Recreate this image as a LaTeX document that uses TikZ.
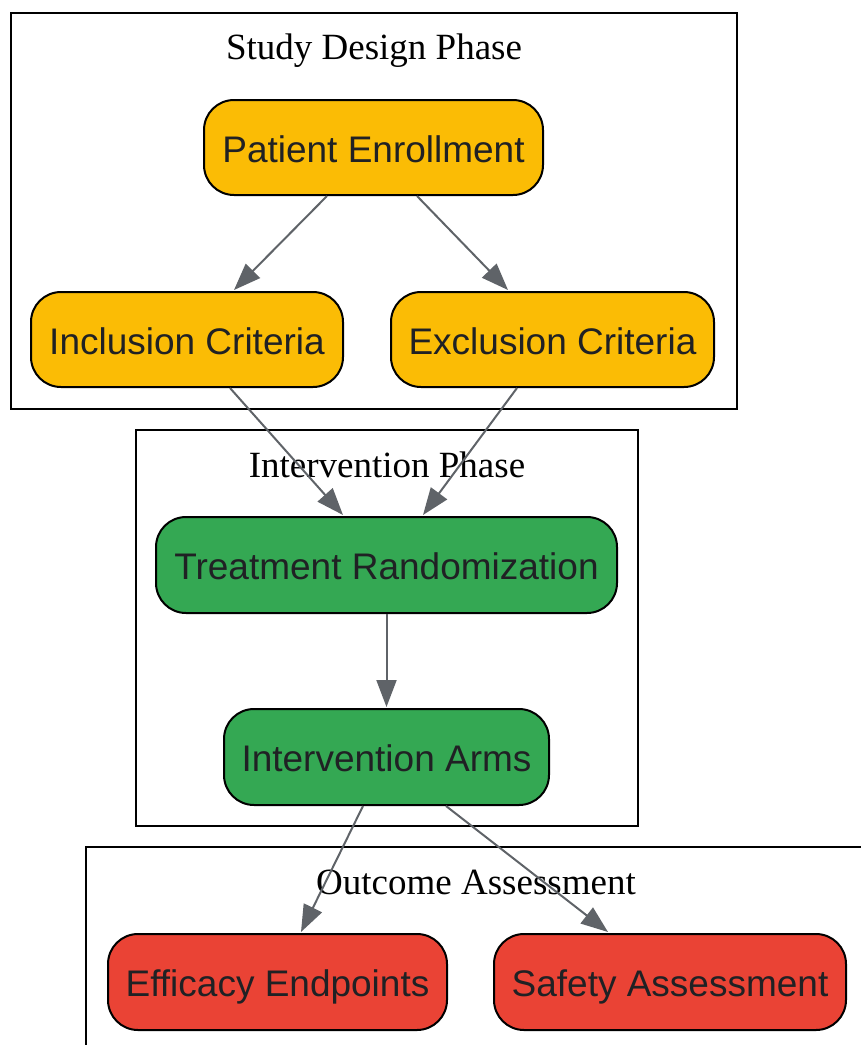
\documentclass[tikz,border=0pt]{standalone}
\usepackage{fontspec}
\setmainfont{Liberation Serif}
\newfontfamily\nodefont{Liberation Sans}
\usetikzlibrary{arrows.meta}
\definecolor{gyellow}{HTML}{FBBC05}
\definecolor{ggreen}{HTML}{34A853}
\definecolor{gred}{HTML}{EA4335}
\definecolor{edgegray}{HTML}{5F6368}
\definecolor{txt}{HTML}{202124}
\tikzset{
  stepbox/.style={draw=black, line width=2pt, rounded corners=30pt, inner sep=0pt, anchor=center,
    text height=29pt, text depth=0pt,
    font=\nodefont\fontsize{37}{44}\selectfont, text=txt},
  clusterbox/.style={draw=black, line width=1.8pt},
  ctitle/.style={font=\fontsize{37}{44}\selectfont, text=black, inner sep=0pt,
    text height=25pt, text depth=0pt},
  arr/.style={draw=edgegray, line width=2pt, -{Triangle[length=27pt,width=20pt]}}
}
\begin{document}
\begin{tikzpicture}[x=1pt,y=-1pt]
\useasboundingbox (0,0) rectangle (861,1045);
% clusters
\draw[clusterbox] (11,13) rectangle (737,409);
\node[ctitle] (t1) at (374,47) {Study Design Phase};
\draw[clusterbox] (136,430) rectangle (638,826);
\node[ctitle] (t2) at (387,465) {Intervention Phase};
\draw[clusterbox] (861,847) -- (86,847) -- (86,1045);
\node[ctitle] (t3) at (476,882) {Outcome Assessment};
% nodes
\node[stepbox, fill=gyellow, minimum width=339pt, minimum height=95pt] (pe) at (373.5,147.5) {Patient Enrollment};
\node[stepbox, fill=gyellow, minimum width=312pt, minimum height=95pt] (inc) at (187,339.5) {Inclusion Criteria};
\node[stepbox, fill=gyellow, minimum width=323pt, minimum height=95pt] (exc) at (552.5,339.5) {Exclusion Criteria};
\node[stepbox, fill=ggreen, minimum width=461pt, minimum height=96pt] (tr) at (386.5,565) {Treatment Randomization};
\node[stepbox, fill=ggreen, minimum width=325pt, minimum height=96pt] (ia) at (386.5,757) {Intervention Arms};
\node[stepbox, fill=gred, minimum width=339pt, minimum height=96pt] (eff) at (277.5,982) {Efficacy Endpoints};
\node[stepbox, fill=gred, minimum width=352pt, minimum height=96pt] (saf) at (670,982) {Safety Assessment};
% edges
\draw[arr] ([xshift=-46.5pt]pe.south) -- ([xshift=47pt,yshift=1pt]inc.north);
\draw[arr] ([xshift=43.5pt]pe.south) -- ([xshift=-44.5pt,yshift=1pt]exc.north);
\draw[arr] ([xshift=43pt]inc.south) -- ([xshift=-43.5pt,yshift=1pt]tr.north);
\draw[arr] ([xshift=-35.5pt]exc.south) -- ([xshift=36.5pt,yshift=1pt]tr.north);
\draw[arr] (tr.south) -- ([yshift=1pt]ia.north);
\draw[arr] ([xshift=-23.5pt]ia.south) -- ([xshift=23.5pt,yshift=1pt]eff.north);
\draw[arr] ([xshift=59.5pt]ia.south) -- ([xshift=-62pt,yshift=1pt]saf.north);
\end{tikzpicture}
\end{document}
